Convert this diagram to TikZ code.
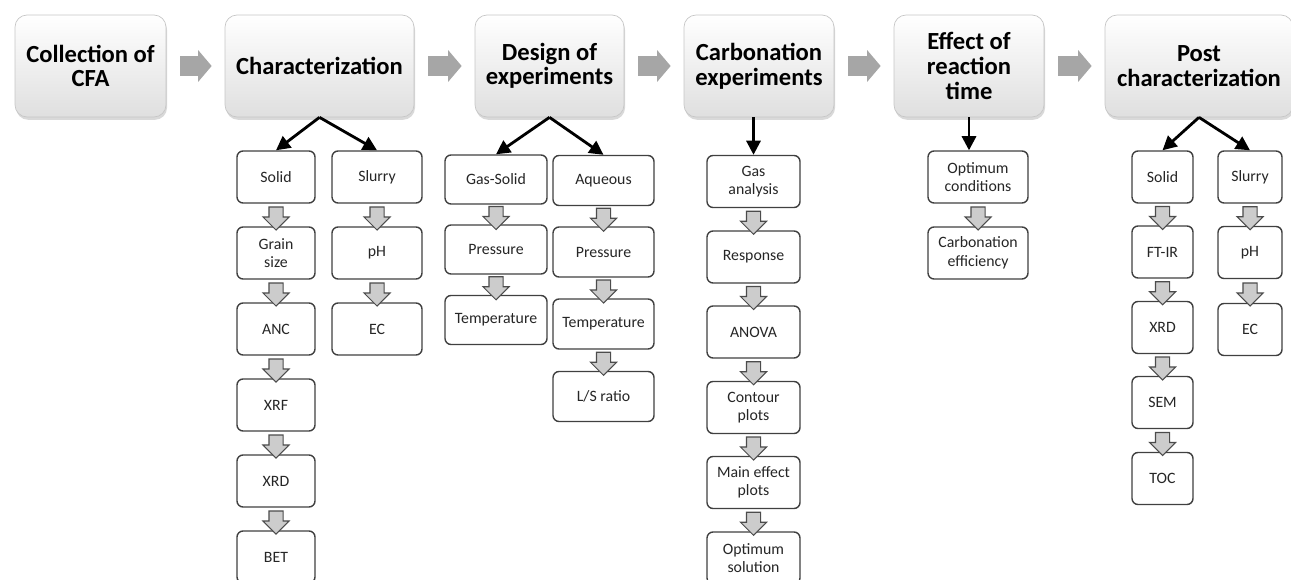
\documentclass[tikz,border=0pt]{standalone}
\usepackage{fontspec}
\setmainfont{Carlito}
\usepackage{tikz}
\usetikzlibrary{arrows.meta}
\usetikzlibrary{calc}
\usetikzlibrary{shadows}
\usetikzlibrary{shapes.arrows}
\tikzstyle{stage} = [draw=gray!45, rounded corners=0.24cm, top color=white, bottom color=gray!25, drop shadow={opacity=0.3,shadow xshift=0.6pt,shadow yshift=-1.6pt}, minimum height=2.04cm, align=center, font=\bfseries\fontsize{14}{14}\selectfont]
\tikzstyle{subbox} = [draw=black!75, line width=0.8pt, fill=white, rounded corners=0.12cm, minimum height=1.04cm, align=center, inner sep=1pt, text=black!85, font=\fontsize{9}{10.5}\selectfont]
\tikzstyle{flow} = [line width=0.4cm, draw=gray!70, -{Triangle[length=0.27cm,width=0.62cm]}, shorten <=0.28cm, shorten >=0.26cm]
\tikzstyle{branch} = [line width=1.6pt, -{Triangle[length=8pt,width=8pt]}]
\tikzstyle{darr} = [single arrow, shape border rotate=270, draw=black!70, fill=gray!40, line width=0.6pt, minimum height=0.46cm, minimum width=0.5cm, single arrow head extend=0.12cm, inner sep=0.13cm]

\begin{document}
\begin{tikzpicture}[x=0.02cm,y=-0.02cm]
\useasboundingbox (0,0) rectangle (1291,580);

% main stages
\draw(90.5,66) node[stage, minimum width=3.02cm] (cfa) {Collection of\\CFA};
\draw(319.5,66) node[stage, minimum width=3.78cm] (char) {Characterization};
\draw(549.5,66) node[stage, minimum width=2.98cm] (doe) {Design of\\experiments};
\draw(759,66) node[stage, minimum width=3.0cm] (carb) {Carbonation\\experiments};
\draw(969,66) node[stage, minimum width=3.0cm] (eff) {Effect of\\reaction\\time};
\draw(1199,66) node[stage, minimum width=3.76cm] (post) {Post\\characterization};

\draw[flow] (cfa) -- (char);
\draw[flow] (char) -- (doe);
\draw[flow] (doe) -- (carb);
\draw[flow] (carb) -- (eff);
\draw[flow] (eff) -- (post);


% characterization
\draw(276,177) node[subbox, minimum width=1.56cm] (cs1) {Solid};
\draw(276,253) node[subbox, minimum width=1.56cm] (cs2) {Grain\\size};
\draw(276,329) node[subbox, minimum width=1.56cm] (cs3) {ANC};
\draw(276,405) node[subbox, minimum width=1.56cm] (cs4) {XRF};
\draw(276,481) node[subbox, minimum width=1.56cm] (cs5) {XRD};
\draw(276,557) node[subbox, minimum width=1.56cm] (cs6) {BET};
\draw(377,177) node[subbox, minimum width=1.8cm] (cl1) {Slurry};
\draw(377,253) node[subbox, minimum width=1.8cm] (cl2) {pH};
\draw(377,329) node[subbox, minimum width=1.8cm] (cl3) {EC};

\draw[branch] (char.south) -- (cs1.north);
\draw[branch] (char.south) -- (cl1.north);
\draw($(cs1.south)!0.5!(cs2.north)$) node[darr] (d1) {};
\draw($(cs2.south)!0.5!(cs3.north)$) node[darr] (d2) {};
\draw($(cs3.south)!0.5!(cs4.north)$) node[darr] (d3) {};
\draw($(cs4.south)!0.5!(cs5.north)$) node[darr] (d4) {};
\draw($(cs5.south)!0.5!(cs6.north)$) node[darr] (d5) {};
\draw($(cl1.south)!0.5!(cl2.north)$) node[darr] (d6) {};
\draw($(cl2.south)!0.5!(cl3.north)$) node[darr] (d7) {};


% design of experiments
\draw(496,179.5) node[subbox, minimum width=2.04cm, minimum height=0.98cm] (gs1) {Gas-Solid};
\draw(496,249.5) node[subbox, minimum width=2.04cm, minimum height=0.98cm] (gs2) {Pressure};
\draw(496,320) node[subbox, minimum width=2.04cm, minimum height=0.98cm] (gs3) {Temperature};
\draw(603.5,180.5) node[subbox, minimum width=2.02cm, minimum height=1.0cm] (aq1) {Aqueous};
\draw(603.5,252) node[subbox, minimum width=2.02cm, minimum height=1.0cm] (aq2) {Pressure};
\draw(603.5,324) node[subbox, minimum width=2.02cm, minimum height=1.0cm] (aq3) {Temperature};
\draw(603.5,396.5) node[subbox, minimum width=2.02cm, minimum height=1.0cm] (aq4) {L/S ratio};

\draw[branch] (doe.south) -- (gs1.north);
\draw[branch] (doe.south) -- (aq1.north);
\draw($(gs1.south)!0.5!(gs2.north)$) node[darr] (d8) {};
\draw($(gs2.south)!0.5!(gs3.north)$) node[darr] (d9) {};
\draw($(aq1.south)!0.5!(aq2.north)$) node[darr] (d10) {};
\draw($(aq2.south)!0.5!(aq3.north)$) node[darr] (d11) {};
\draw($(aq3.south)!0.5!(aq4.north)$) node[darr] (d12) {};


% carbonation experiments
\draw(753.5,181.5) node[subbox, minimum width=1.86cm] (ce1) {Gas\\analysis};
\draw(753.5,257) node[subbox, minimum width=1.86cm] (ce2) {Response};
\draw(753.5,332) node[subbox, minimum width=1.86cm] (ce3) {ANOVA};
\draw(753.5,407.5) node[subbox, minimum width=1.86cm] (ce4) {Contour\\plots};
\draw(753.5,482.5) node[subbox, minimum width=1.86cm] (ce5) {Main effect\\plots};
\draw(753.5,558) node[subbox, minimum width=1.86cm] (ce6) {Optimum\\solution};

\draw[branch] (ce1.north |- carb.south) -- (ce1.north);
\draw($(ce1.south)!0.5!(ce2.north)$) node[darr] (d13) {};
\draw($(ce2.south)!0.5!(ce3.north)$) node[darr] (d14) {};
\draw($(ce3.south)!0.5!(ce4.north)$) node[darr] (d15) {};
\draw($(ce4.south)!0.5!(ce5.north)$) node[darr] (d16) {};
\draw($(ce5.south)!0.5!(ce6.north)$) node[darr] (d17) {};


% reaction time
\draw(978,177) node[subbox, minimum width=2.0cm] (rt1) {Optimum\\conditions};
\draw(978,253) node[subbox, minimum width=2.0cm] (rt2) {Carbonation\\efficiency};

\draw[branch] (eff.south) -- (eff.south |- rt1.north);
\draw($(rt1.south)!0.5!(rt2.north)$) node[darr] (d18) {};


% post characterization
\draw(1162.5,177) node[subbox, minimum width=1.22cm] (ps1) {Solid};
\draw(1162.5,252) node[subbox, minimum width=1.22cm] (ps2) {FT-IR};
\draw(1162.5,327.5) node[subbox, minimum width=1.22cm] (ps3) {XRD};
\draw(1162.5,402.5) node[subbox, minimum width=1.22cm] (ps4) {SEM};
\draw(1162.5,478.5) node[subbox, minimum width=1.22cm] (ps5) {TOC};
\draw(1250,177) node[subbox, minimum width=1.28cm] (pl1) {Slurry};
\draw(1250,252.5) node[subbox, minimum width=1.28cm] (pl2) {pH};
\draw(1250,329.5) node[subbox, minimum width=1.28cm] (pl3) {EC};

\draw[branch] (post.south) -- (ps1.north);
\draw[branch] (post.south) -- (pl1.north);
\draw($(ps1.south)!0.5!(ps2.north)$) node[darr] (d19) {};
\draw($(ps2.south)!0.5!(ps3.north)$) node[darr] (d20) {};
\draw($(ps3.south)!0.5!(ps4.north)$) node[darr] (d21) {};
\draw($(ps4.south)!0.5!(ps5.north)$) node[darr] (d22) {};
\draw($(pl1.south)!0.5!(pl2.north)$) node[darr] (d23) {};
\draw($(pl2.south)!0.5!(pl3.north)$) node[darr] (d24) {};

\end{tikzpicture}
\end{document}
